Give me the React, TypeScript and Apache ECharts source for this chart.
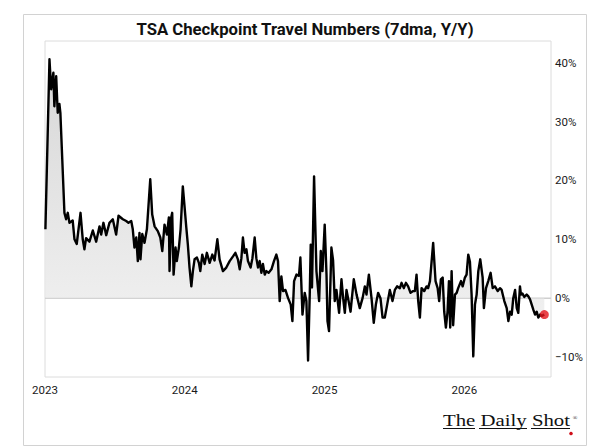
import React, { useEffect, useRef } from "react";
import * as echarts from "echarts";

const TITLE = "TSA Checkpoint Travel Numbers (7dma, Y/Y)";
const X_TICKS = [2023, 2024, 2025, 2026];
const Y_TICKS = [-10, 0, 10, 20, 30, 40];

// decimal-year dates of the 7dma observations
const DATES = [
  2023.003, 2023.032, 2023.044, 2023.06, 2023.067, 2023.08, 2023.091, 2023.103, 2023.11, 2023.139,
  2023.151, 2023.163, 2023.175, 2023.198, 2023.211, 2023.227, 2023.254, 2023.27, 2023.282, 2023.294,
  2023.318, 2023.342, 2023.366, 2023.39, 2023.402, 2023.418, 2023.438, 2023.461, 2023.485, 2023.509,
  2023.526, 2023.557, 2023.581, 2023.597, 2023.617, 2023.628, 2023.64, 2023.653, 2023.664, 2023.676,
  2023.683, 2023.696, 2023.712, 2023.729, 2023.753, 2023.767, 2023.784, 2023.807, 2023.825, 2023.839,
  2023.855, 2023.872, 2023.886, 2023.891, 2023.903, 2023.91, 2023.92, 2023.934, 2023.943, 2023.958,
  2023.97, 2023.986, 2023.999, 2024.011, 2024.022, 2024.034, 2024.047, 2024.058, 2024.07, 2024.087,
  2024.101, 2024.111, 2024.125, 2024.142, 2024.158, 2024.178, 2024.197, 2024.213, 2024.233, 2024.249,
  2024.273, 2024.297, 2024.321, 2024.345, 2024.362, 2024.38, 2024.393, 2024.405, 2024.416, 2024.428,
  2024.441, 2024.452, 2024.471, 2024.484, 2024.5, 2024.512, 2024.524, 2024.536, 2024.548, 2024.559,
  2024.572, 2024.584, 2024.6, 2024.62, 2024.638, 2024.655, 2024.667, 2024.679, 2024.691, 2024.703,
  2024.72, 2024.739, 2024.758, 2024.77, 2024.782, 2024.799, 2024.817, 2024.827, 2024.842, 2024.858,
  2024.87, 2024.882, 2024.894, 2024.901, 2024.91, 2024.925, 2024.942, 2024.961, 2024.973, 2024.985,
  2025.001, 2025.014, 2025.021, 2025.032, 2025.049, 2025.061, 2025.073, 2025.085, 2025.104, 2025.121,
  2025.133, 2025.145, 2025.157, 2025.168, 2025.186, 2025.209, 2025.229, 2025.252, 2025.272, 2025.288,
  2025.3, 2025.317, 2025.336, 2025.352, 2025.367, 2025.383, 2025.4, 2025.415, 2025.431, 2025.448,
  2025.467, 2025.486, 2025.503, 2025.519, 2025.539, 2025.551, 2025.567, 2025.582, 2025.598, 2025.615,
  2025.634, 2025.646, 2025.658, 2025.67, 2025.682, 2025.694, 2025.713, 2025.73, 2025.741, 2025.754,
  2025.777, 2025.794, 2025.809, 2025.82, 2025.832, 2025.845, 2025.856, 2025.868, 2025.88, 2025.89,
  2025.899, 2025.909, 2025.92, 2025.933, 2025.945, 2025.956, 2025.976, 2025.988, 2026.004, 2026.016,
  2026.028, 2026.04, 2026.052, 2026.064, 2026.076, 2026.088, 2026.1, 2026.114, 2026.131, 2026.14,
  2026.155, 2026.171, 2026.188, 2026.203, 2026.219, 2026.239, 2026.255, 2026.267, 2026.286, 2026.303,
  2026.315, 2026.327, 2026.339, 2026.35, 2026.363, 2026.375, 2026.386, 2026.398, 2026.405, 2026.415,
  2026.429, 2026.446, 2026.458, 2026.47, 2026.482, 2026.494, 2026.506, 2026.518, 2026.529, 2026.542,
  2026.554, 2026.572,
];

// Y/Y change, %
const VALUES = [
  11.7, 40.6, 35.5, 38.3, 32.6, 37.7, 31.5, 33, 31.5, 14.5,
  13.4, 14.5, 12.8, 13.2, 10, 9.2, 14.5, 10, 8.3, 10.2,
  9.6, 11.5, 9.6, 12.2, 10.8, 12.8, 10.7, 12.8, 13.4, 10.8,
  14, 13.4, 13.1, 12.8, 13.1, 11.7, 8.6, 10.3, 6.3, 11.1,
  6.6, 10.9, 9.4, 11.7, 20.2, 14.2, 12.2, 11.4, 10.3, 8,
  12.5, 10.8, 13.7, 4.6, 13.7, 14.5, 4, 8.6, 6.3, 8.6,
  11.7, 19, 15.4, 12, 9.1, 5.2, 2, 4.6, 6.6, 6.9,
  6, 4.6, 7.4, 5.8, 7.7, 6, 7.4, 6.4, 10, 6.6,
  4.6, 5.2, 6.3, 7.1, 7.7, 6.6, 4.9, 6.8, 10.3, 7.7,
  8.3, 6.3, 5.2, 6.8, 10.3, 6.8, 5.2, 6.3, 4.3, 5.8,
  4, 4.6, 4.3, 4.9, 6.3, 7.4, 6.3, -0.5, 3.7, 1.2,
  1.4, 0, -1.1, -3.9, 2.9, 4, 3.8, 6.9, -2.8, 0.9,
  -0.5, -10.6, 0.6, 9.1, 1.8, 20.7, 4.6, -0.5, 8, 4.6,
  12.5, 4, -3.9, -5.6, 8.6, 6.4, -0.5, 1.4, -2.5, 3.2,
  0, -2.5, 1.4, 0, -2.3, 3.2, 0.6, -1.7, 0, 2,
  0.6, 4, 0, -4.2, -1.1, 0.9, 0, -3.3, -3.3, -1.1,
  1.4, -0.5, 1.4, 2, 1.7, 2.6, 1.7, 2.6, 2, 0.9,
  1.2, 1.2, 4, -0.5, -3.3, 1.7, 1.2, 2, 1.7, 2.9,
  9.4, 2.9, 1.7, -0.5, 3.2, 3.5, -2.3, -5, -2.3, 2.9,
  -5, 4.6, -4.6, 0.6, 0.9, 1.7, 2.9, 2, 3.5, 4,
  7.4, 6.2, 0.6, -9.9, -1.1, 0.6, 4.6, 6.6, 3.5, -1.7,
  1.7, 2.9, 4.3, 1.7, 2, 1.2, 1.7, 1.4, -0.5, -1.7,
  -3.9, -2.3, -2.8, 0, 1.4, -1.7, -2.5, 2, 0.6, 0.8,
  0.2, 0.6, 0.3, -0.2, -1.1, -2, -2.8, -2.3, -3.3, -2.8,
  -3, -2.8,
];

const X_MIN = 2023;
const X_MAX = 2026.62;
const Y_MIN = -13.4;
const Y_MAX = 43.7;

export default function App() {
  const ref = useRef<HTMLDivElement>(null);

  useEffect(() => {
    if (!ref.current) return;
    const chart = echarts.init(ref.current, null, { renderer: "svg" });
    const series = DATES.map((d, i) => [d, VALUES[i]]);
    const last = series[series.length - 1];
    const labelFont = "Roboto, 'Noto Sans', sans-serif";

    chart.setOption({
      animation: false,
      backgroundColor: "#ffffff",
      grid: {
        left: 45,
        top: 41,
        right: 63,
        bottom: 71,
        show: true,
        borderColor: "#dcdcdc",
        borderWidth: 1,
        backgroundColor: "#ffffff",
      },
      xAxis: {
        type: "value",
        min: X_MIN,
        max: X_MAX,
        axisLine: { show: false },
        axisTick: { show: false },
        splitLine: { show: false },
        axisLabel: {
          customValues: X_TICKS,
          formatter: (v: number) => String(v),
          color: "#1a1a1a",
          fontSize: 11.5,
          fontFamily: labelFont,
          margin: 7,
        },
      },
      yAxis: {
        type: "value",
        position: "right",
        min: Y_MIN,
        max: Y_MAX,
        axisLine: { show: false },
        axisTick: { show: false },
        splitLine: { show: false },
        axisLabel: {
          customValues: Y_TICKS,
          formatter: (v: number) => (v < 0 ? "\u2212" + Math.abs(v) : String(v)) + "%",
          color: "#1a1a1a",
          fontSize: 11.5,
          fontFamily: labelFont,
          margin: 4,
        },
      },
      series: [
        {
          type: "line",
          name: "zero",
          data: [
            [X_MIN, 0],
            [X_MAX, 0],
          ],
          showSymbol: false,
          silent: true,
          z: 1,
          lineStyle: { color: "#cfcfcf", width: 1.5 },
        },
        {
          type: "line",
          name: "TSA",
          data: series,
          showSymbol: false,
          z: 2,
          lineStyle: { color: "#000000", width: 2.4, join: "round" },
          areaStyle: {
            origin: 0,
            color: new echarts.graphic.LinearGradient(0, 0, 0, 1, [
              { offset: 0, color: "#c6c6c6" },
              { offset: 0.8, color: "#e7e7e7" },
              { offset: 1, color: "#f1f1f1" },
            ]),
          },
        },
        {
          type: "scatter",
          name: "last",
          data: [last],
          symbolSize: 9,
          z: 3,
          itemStyle: { color: "#e3141b" },
        },
      ],
      graphic: [
        {
          type: "rect",
          shape: { x: 23.5, y: 14.5, width: 563, height: 431 },
          style: { fill: "none", stroke: "#d2d2d2", lineWidth: 1 },
          silent: true,
          z: -1,
        },
        {
          type: "text",
          x: 305,
          y: 29,
          style: {
            text: TITLE,
            fill: "#111111",
            font: "bold 16.7px Roboto, sans-serif",
            align: "center",
            verticalAlign: "middle",
          },
        },
        {
          type: "text",
          x: 443,
          y: 420,
          scaleX: 1.3,
          style: {
            text: "The Daily Shot",
            fill: "#111111",
            font: "16px 'Liberation Serif', 'Times New Roman', serif",
            align: "left",
            verticalAlign: "middle",
          },
        },
        {
          type: "text",
          x: 575,
          y: 418,
          style: {
            text: "\u00AE",
            fill: "#111111",
            font: "6px 'Liberation Serif', serif",
            align: "center",
            verticalAlign: "middle",
          },
        },
        {
          type: "line",
          shape: { x1: 443, y1: 428.5, x2: 475, y2: 428.5 },
          style: { stroke: "#111111", lineWidth: 1 },
        },
        {
          type: "line",
          shape: { x1: 479, y1: 428.5, x2: 527, y2: 428.5 },
          style: { stroke: "#111111", lineWidth: 1 },
        },
        {
          type: "line",
          shape: { x1: 531, y1: 428.5, x2: 570, y2: 428.5 },
          style: { stroke: "#111111", lineWidth: 1 },
        },
        {
          type: "circle",
          shape: { cx: 571, cy: 433.5, r: 1.8 },
          style: { fill: "#d0101a" },
        },
      ],
    });

    return () => chart.dispose();
  }, []);

  return (
    <div
      ref={ref}
      style={{ position: "fixed", left: 0, top: 0, width: 614, height: 448 }}
    />
  );
}
